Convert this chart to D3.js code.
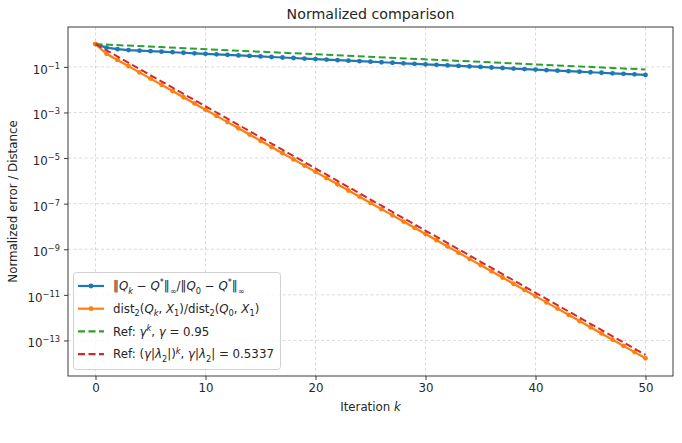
<!DOCTYPE html>
<html>
<head>
<meta charset="utf-8">
<script src="https://cdn.jsdelivr.net/npm/d3@7"></script>
<style>
  body { margin: 0; background: #fff; }
  text { font-family: "DejaVu Sans", sans-serif; fill: #262626; }
</style>
</head>
<body>
<svg id="chart" width="682" height="443"></svg>
<script>
// data
/////////////////////////////////
var iterations = [0, 1, 2, 3, 4, 5, 6, 7, 8, 9, 10, 11, 12, 13, 14, 15, 16, 17, 18, 19, 20,
    21, 22, 23, 24, 25, 26, 27, 28, 29, 30, 31, 32, 33, 34, 35, 36, 37, 38, 39, 40,
    41, 42, 43, 44, 45, 46, 47, 48, 49, 50];

// ||Q_k - Q*||inf / ||Q_0 - Q*||inf
var qError = [1.0, 0.70, 0.60, 0.545, 0.515, 0.489, 0.464, 0.440, 0.417, 0.395, 0.375,
    0.355, 0.337, 0.319, 0.303, 0.287, 0.272, 0.258, 0.245, 0.232, 0.220,
    0.209, 0.198, 0.188, 0.178, 0.169, 0.160, 0.152, 0.144, 0.136, 0.129,
    0.123, 0.116, 0.110, 0.105, 0.0993, 0.0942, 0.0893, 0.0846, 0.0802, 0.0761,
    0.0721, 0.0684, 0.0648, 0.0615, 0.0583, 0.0552, 0.0524, 0.0497, 0.0471, 0.0446];

// dist_2(Q_k, X_1) / dist_2(Q_0, X_1)
var subspaceDist = [1.0, 3.779e-1, 2.017e-1, 1.076e-1, 5.743e-2, 3.065e-2, 1.636e-2, 8.732e-3,
    4.660e-3, 2.487e-3, 1.327e-3, 7.085e-4, 3.781e-4, 2.018e-4, 1.077e-4, 5.749e-5,
    3.068e-5, 1.638e-5, 8.742e-6, 4.666e-6, 2.490e-6, 1.329e-6, 7.093e-7, 3.786e-7,
    2.020e-7, 1.078e-7, 5.756e-8, 3.072e-8, 1.640e-8, 8.750e-9, 4.670e-9, 2.493e-9,
    1.330e-9, 7.100e-10, 3.789e-10, 2.022e-10, 1.079e-10, 5.761e-11, 3.075e-11,
    1.641e-11, 8.758e-12, 4.674e-12, 2.495e-12, 1.331e-12, 7.106e-13, 3.793e-13,
    2.024e-13, 1.080e-13, 5.766e-14, 3.078e-14, 1.642e-14];

// reference lines are straight on the log axis: start and end points
var refK = [0, 50];
var refGamma = [1.0, 7.69e-2];
var refLambda = [1.0, 2.32e-14];

var xTicks = [0, 10, 20, 30, 40, 50];
var yTickExps = [-1, -3, -5, -7, -9, -11, -13];

// layout
/////////////////////////////////
var plot = { left: 68, right: 673, top: 27, bottom: 376 },
    fontSize = 11.8;

var svg = d3.select('#chart');

var x = d3.scaleLinear().domain([-2.5, 52.5]).range([plot.left, plot.right]);
var y = d3.scaleLog().domain([Math.pow(10, -14.56), Math.pow(10, 0.75)]).range([plot.bottom, plot.top]);

// grid
var grid = svg.append('g').attr('class', 'grid')
    .attr('stroke', '#b0b0b0').attr('stroke-opacity', 0.6)
    .attr('stroke-width', 0.8).attr('stroke-dasharray', '3,2.5');

grid.selectAll('line.gx').data(xTicks).enter().append('line')
    .attr('x1', function (d) { return x(d); }).attr('x2', function (d) { return x(d); })
    .attr('y1', plot.top).attr('y2', plot.bottom);

grid.selectAll('line.gy').data(yTickExps).enter().append('line')
    .attr('y1', function (d) { return y(Math.pow(10, d)); })
    .attr('y2', function (d) { return y(Math.pow(10, d)); })
    .attr('x1', plot.left).attr('x2', plot.right);

// lines
var clip = svg.append('clipPath').attr('id', 'clip').append('rect')
    .attr('x', plot.left).attr('y', plot.top)
    .attr('width', plot.right - plot.left).attr('height', plot.bottom - plot.top);

var marks = svg.append('g').attr('clip-path', 'url(#clip)');

var line = d3.line()
    .x(function (d) { return x(d[0]); })
    .y(function (d) { return y(d[1]); });

var series = [
    { key: 'q', k: iterations, v: qError, color: '#1f77b4', markers: true },
    { key: 'd', k: iterations, v: subspaceDist, color: '#ff7f0e', markers: true },
    { key: 'g', k: refK, v: refGamma, color: '#2ca02c', dash: '7,3.5' },
    { key: 'r', k: refK, v: refLambda, color: '#d62728', dash: '7,3.5' }
];

series.forEach(function (s) {
    var pts = s.k.map(function (k, i) { return [k, s.v[i]]; });
    marks.append('path').datum(pts)
        .attr('d', line)
        .attr('fill', 'none')
        .attr('stroke', s.color)
        .attr('stroke-width', s.dash ? 2 : 2.2)
        .attr('stroke-dasharray', s.dash || null);
    if (s.markers) {
        marks.selectAll('circle.m' + s.key).data(pts).enter().append('circle')
            .attr('cx', function (d) { return x(d[0]); })
            .attr('cy', function (d) { return y(d[1]); })
            .attr('r', 2.4)
            .attr('fill', s.color);
    }
});

// axes
var xAxis = svg.append('g')
    .attr('transform', 'translate(0,' + plot.bottom + ')')
    .call(d3.axisBottom(x).tickValues(xTicks).tickSize(4).tickPadding(4).tickFormat(d3.format('d')));

var yAxis = svg.append('g')
    .attr('transform', 'translate(' + plot.left + ',0)')
    .call(d3.axisLeft(y).tickValues(yTickExps.map(function (e) { return Math.pow(10, e); }))
        .tickSize(4).tickPadding(4).tickFormat(function () { return '10'; }));

[xAxis, yAxis].forEach(function (a) {
    a.select('.domain').remove();
    a.selectAll('.tick line').attr('stroke', '#262626').attr('stroke-width', 0.9);
    a.selectAll('.tick text').attr('font-family', '"DejaVu Sans", sans-serif')
        .attr('font-size', fontSize).attr('fill', '#262626');
});

yAxis.selectAll('.tick text').each(function (d) {
    var e = Math.round(Math.log10(d));
    d3.select(this).attr('dy', '0.55em').append('tspan')
        .attr('dy', '-0.62em')
        .attr('font-size', fontSize * 0.7)
        .text('\u2212' + Math.abs(e));
});

// frame
svg.append('rect')
    .attr('x', plot.left).attr('y', plot.top)
    .attr('width', plot.right - plot.left).attr('height', plot.bottom - plot.top)
    .attr('fill', 'none').attr('stroke', '#262626').attr('stroke-width', 0.9);

// rich text helper: segments [text, style] with style 'i' italic, 'sub', 'sup', 'isub', 'isup'
function richText(sel, segs, size) {
    var shift = 0;
    segs.forEach(function (s) {
        var t = s[0], st = s[1] || '';
        var target = 0, fsz = size;
        if (st.indexOf('sub') >= 0) { target = size * 0.28; fsz = size * 0.7; }
        if (st.indexOf('sup') >= 0) { target = -size * 0.4; fsz = size * 0.7; }
        sel.append('tspan')
            .attr('dy', target - shift)
            .attr('font-size', fsz)
            .attr('font-style', st.indexOf('i') === 0 ? 'italic' : null)
            .text(t);
        shift = target;
    });
}

// title & labels
svg.append('text')
    .attr('x', (plot.left + plot.right) / 2).attr('y', 19)
    .attr('text-anchor', 'middle').attr('font-size', 14.2)
    .text('Normalized comparison');

var xl = svg.append('text')
    .attr('x', (plot.left + plot.right) / 2).attr('y', 411)
    .attr('text-anchor', 'middle').attr('font-size', fontSize);
richText(xl, [['Iteration '], ['k', 'i']], fontSize);

svg.append('text')
    .attr('transform', 'translate(17,' + ((plot.top + plot.bottom) / 2) + ') rotate(-90)')
    .attr('text-anchor', 'middle').attr('font-size', fontSize)
    .text('Normalized error / Distance');

// legend
var legendItems = [
    { color: '#1f77b4', marker: true, segs: [['\u2016'], ['Q', 'i'], ['k', 'isub'], [' \u2212 '], ['Q', 'i'], ['*', 'sup'],
        ['\u2016'], ['\u221e', 'sub'], ['/\u2016'], ['Q', 'i'], ['0', 'sub'], [' \u2212 '], ['Q', 'i'], ['*', 'sup'],
        ['\u2016'], ['\u221e', 'sub']] },
    { color: '#ff7f0e', marker: true, segs: [['dist'], ['2', 'sub'], ['('], ['Q', 'i'], ['k', 'isub'], [', '], ['X', 'i'],
        ['1', 'sub'], [')/dist'], ['2', 'sub'], ['('], ['Q', 'i'], ['0', 'sub'], [', '], ['X', 'i'], ['1', 'sub'], [')']] },
    { color: '#2ca02c', dash: '7,3.5', segs: [['Ref: '], ['\u03b3', 'i'], ['k', 'isup'], [', '], ['\u03b3', 'i'], [' = 0.95']] },
    { color: '#d62728', dash: '7,3.5', segs: [['Ref: ('], ['\u03b3', 'i'], ['|'], ['\u03bb', 'i'], ['2', 'sub'], ['|)'],
        ['k', 'isup'], [', '], ['\u03b3', 'i'], ['|'], ['\u03bb', 'i'], ['2', 'sub'], ['| = 0.5337']] }
];

var legend = svg.append('g');
legend.append('rect')
    .attr('x', 73.5).attr('y', 272.5).attr('width', 207).attr('height', 97)
    .attr('rx', 3).attr('fill', '#fff').attr('fill-opacity', 0.8)
    .attr('stroke', '#cccccc').attr('stroke-width', 0.9);

legendItems.forEach(function (it, i) {
    var cy = 286 + i * 22.7;
    legend.append('line')
        .attr('x1', 78).attr('x2', 104).attr('y1', cy).attr('y2', cy)
        .attr('stroke', it.color).attr('stroke-width', 2.2)
        .attr('stroke-dasharray', it.dash || null);
    if (it.marker) {
        legend.append('circle').attr('cx', 91).attr('cy', cy).attr('r', 2.4).attr('fill', it.color);
    }
    var t = legend.append('text').attr('x', 113).attr('y', cy + 4.2).attr('font-size', fontSize);
    richText(t, it.segs, fontSize);
});
</script>
</body>
</html>
